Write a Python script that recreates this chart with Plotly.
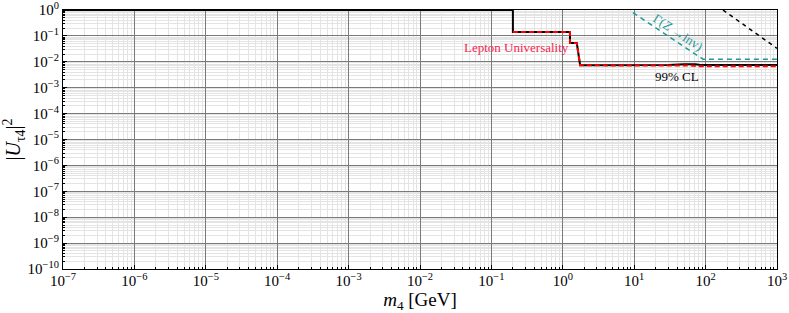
import plotly.graph_objects as go

# Data
limit_m = [1e-7, 0.2, 0.2, 1.26, 1.26, 1.57, 1.75, 10, 30, 50, 60, 72, 85, 1000]
limit_u = [1, 1, 0.14, 0.14, 0.053, 0.053, 0.0073, 0.0073, 0.0075, 0.0081, 0.0083, 0.0080, 0.0075, 0.0075]

lu_m = [0.2, 1.26, 1.26, 1.57, 1.75, 10, 30, 60, 85, 1000]
lu_u = [0.14, 0.14, 0.053, 0.053, 0.0073, 0.0073, 0.0073, 0.0072, 0.0067, 0.0067]

zinv_m = [9.6, 92, 1000]
zinv_u = [0.785, 0.0126, 0.0126]

other_m = [175, 1000]
other_u = [1, 0.033]

x_tickvals = [1e-7, 1e-6, 1e-5, 1e-4, 1e-3, 1e-2, 1e-1, 1e0, 1e1, 1e2, 1e3]
x_ticktext = ["10<sup>−7</sup>", "10<sup>−6</sup>", "10<sup>−5</sup>", "10<sup>−4</sup>", "10<sup>−3</sup>",
              "10<sup>−2</sup>", "10<sup>−1</sup>", "10<sup>0</sup>", "10<sup>1</sup>", "10<sup>2</sup>", "10<sup>3</sup>"]
y_tickvals = [1e0, 1e-1, 1e-2, 1e-3, 1e-4, 1e-5, 1e-6, 1e-7, 1e-8, 1e-9, 1e-10]
y_ticktext = ["10<sup>0</sup>", "10<sup>−1</sup>", "10<sup>−2</sup>", "10<sup>−3</sup>", "10<sup>−4</sup>",
              "10<sup>−5</sup>", "10<sup>−6</sup>", "10<sup>−7</sup>", "10<sup>−8</sup>", "10<sup>−9</sup>", "10<sup>−10</sup>"]

FONT = "Liberation Serif"

fig = go.Figure()
fig.add_trace(go.Scatter(x=other_m, y=other_u, mode="lines",
                         line=dict(color="black", width=1.5, dash="4px,4px"), showlegend=False))
fig.add_trace(go.Scatter(x=zinv_m, y=zinv_u, mode="lines",
                         line=dict(color="#1a9a9a", width=1.5, dash="5px,4px"), showlegend=False))
fig.add_trace(go.Scatter(x=limit_m, y=limit_u, mode="lines",
                         line=dict(color="black", width=2), showlegend=False))
fig.add_trace(go.Scatter(x=lu_m, y=lu_u, mode="lines",
                         line=dict(color="#ff0000", width=2, dash="5px,3px"), showlegend=False))

fig.add_annotation(x=-0.655, y=-1.434, xref="x", yref="y", text="Lepton Universality",
                   showarrow=False, font=dict(family=FONT, size=13, color="#f5254f"))
fig.add_annotation(x=1.6, y=-2.56, xref="x", yref="y", text="99% CL",
                   showarrow=False, font=dict(family=FONT, size=13, color="black"))
fig.add_annotation(x=1.62, y=-0.86, xref="x", yref="y", text="Γ(<i>Z</i> →inv)",
                   showarrow=False, textangle=33, font=dict(family=FONT, size=13, color="#1a9a9a"))

axis_common = dict(
    type="log", showline=True, linecolor="black", linewidth=1.2, mirror=True,
    showgrid=True, gridcolor="#7a7a7a", gridwidth=1, automargin=False,
    ticks="inside", ticklen=4, tickcolor="black", ticklabeloverflow="allow",
    tickfont=dict(family=FONT, size=15, color="black"),
    zeroline=False,
    minor=dict(dtick="D1", showgrid=True, gridcolor="#e4e4e4", gridwidth=1,
               ticks="inside", ticklen=2, tickcolor="black"),
)

fig.update_xaxes(**axis_common, range=[-7, 3], tickvals=x_tickvals, ticktext=x_ticktext,
                 ticklabelstandoff=-2,
                 title=dict(text="<i>m</i><sub>4</sub> [GeV]", font=dict(family=FONT, size=19, color="black"),
                            standoff=6))
fig.update_yaxes(**axis_common, range=[-10, 0], tickvals=y_tickvals, ticktext=y_ticktext,
                 title=dict(text="|<i>U</i><sub>τ4</sub>|<sup>2</sup>", font=dict(family=FONT, size=20, color="black"),
                            standoff=2))

fig.update_layout(width=789, height=313, margin=dict(l=63, r=12, t=10, b=44),
                  plot_bgcolor="white", paper_bgcolor="white", showlegend=False,
                  template="none")

fig.write_html("out.html", config={"displayModeBar": False},
               post_script="document.body.style.margin='0';document.body.style.overflow='hidden';")
